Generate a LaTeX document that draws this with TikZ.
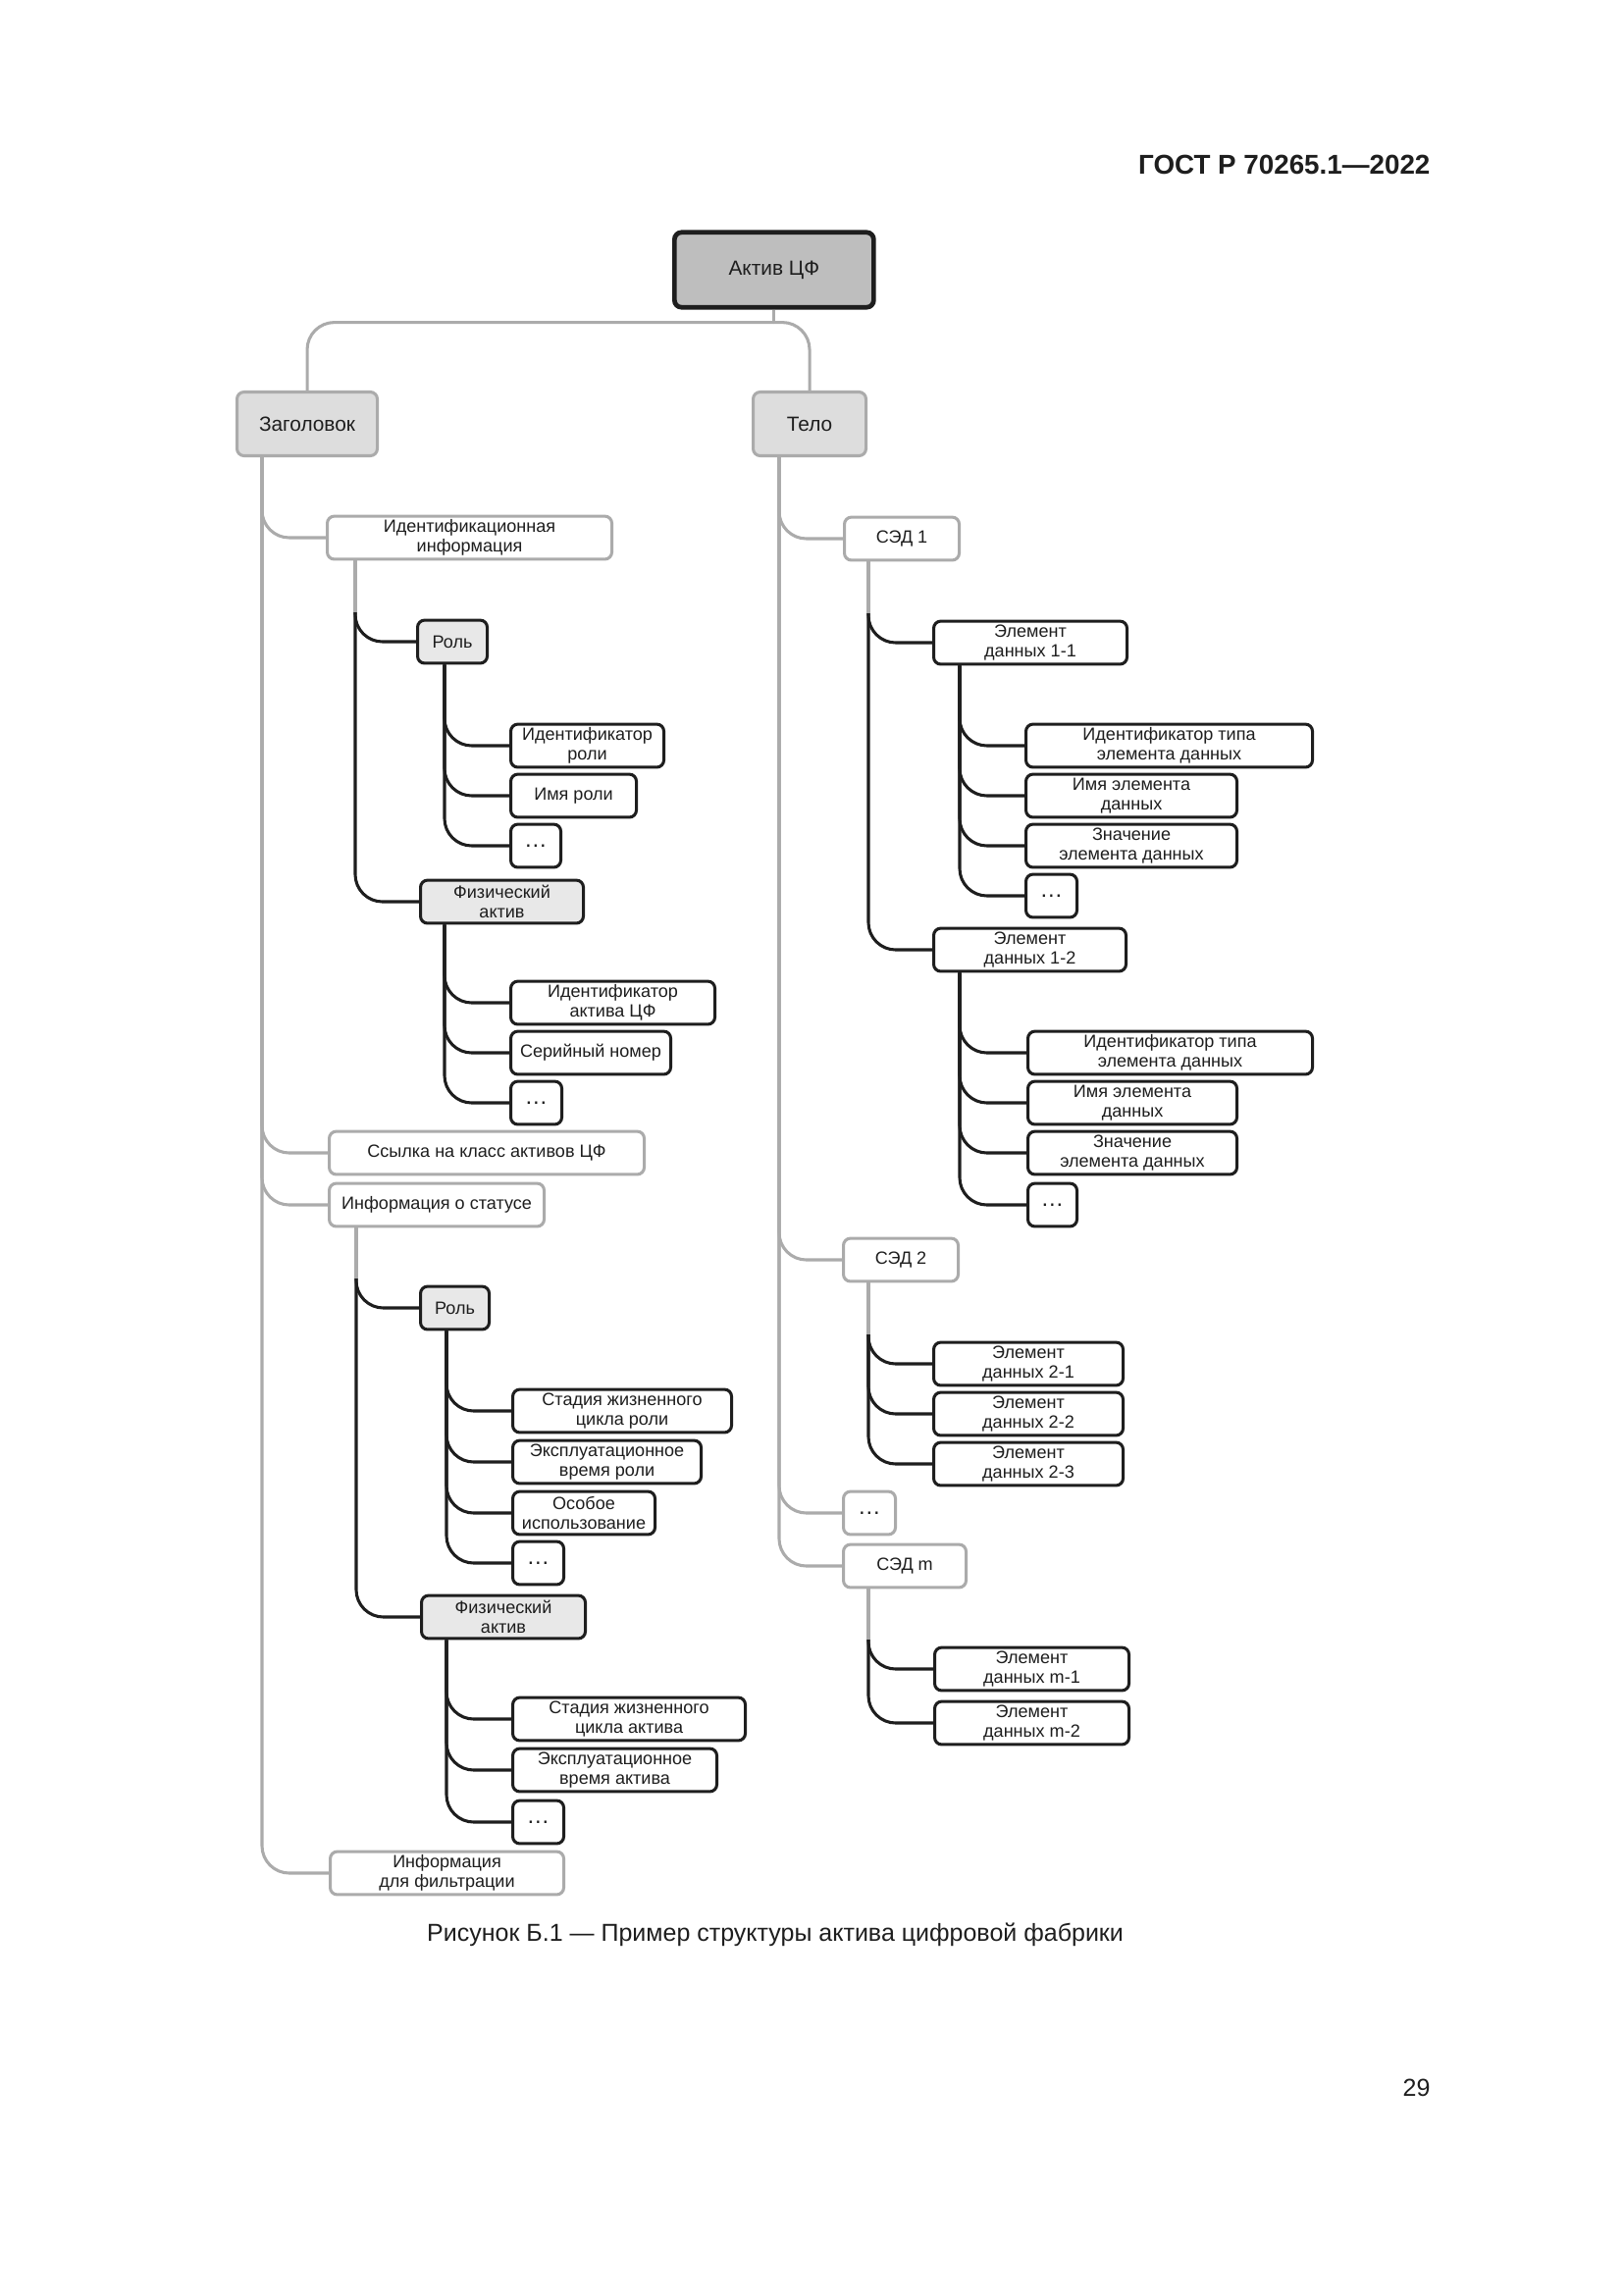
\documentclass[tikz,border=0pt]{standalone}
\usepackage{fontspec}
\setmainfont{Liberation Sans}
\usepackage{xcolor}
\usepackage{tikz}
\usetikzlibrary{calc}
\definecolor{ink}{HTML}{1E1E1E}
\definecolor{edge}{HTML}{ABABAB}
\definecolor{rootfill}{HTML}{BEBEBE}
\definecolor{headfill}{HTML}{DDDDDD}
\definecolor{kindfill}{HTML}{E8E8E8}
\tikzset{
  bw/.style={minimum width=(#1-3)*0.36pt},
  box/.style={anchor=west, rounded corners=2.6pt, minimum height=15.8pt, inner sep=1pt, align=center, text=ink, font=\fontsize{6.5}{7.1}\selectfont},
  rootbox/.style={box, draw=ink, fill=rootfill, line width=1.7pt, minimum height=27.5pt, font=\fontsize{7.5}{8.5}\selectfont},
  headbox/.style={box, draw=edge, fill=headfill, line width=1.1pt, minimum height=23.4pt, font=\fontsize{7.5}{8.5}\selectfont},
  grpbox/.style={box, draw=edge, fill=white, line width=1.1pt},
  kindbox/.style={box, draw=ink, fill=kindfill, line width=1.1pt},
  leafbox/.style={box, draw=ink, fill=white, line width=1.1pt},
  dotbox/.style={font=\fontsize{8.5}{9}\selectfont},
  gline/.style={draw=edge, line width=1.1pt, rounded corners=10pt},
  bline/.style={draw=ink, line width=1.1pt, rounded corners=10pt},
  lab/.style={text=ink, inner sep=0pt},
}
\begin{document}
\begin{tikzpicture}[x=0.36pt, y=-0.36pt]
\path[fill=white, use as bounding box] (0,0) rectangle (1654,2339);

% page text
\node[lab, anchor=base east, font=\fontsize{10}{12}\selectfont\bfseries] (gost) at (1458,177) {ГОСТ Р 70265.1—2022};
\node[lab, anchor=base, font=\fontsize{9}{11}\selectfont] (caption) at (790,1978) {Рисунок Б.1 — Пример структуры актива цифровой фабрики};
\node[lab, anchor=base east, font=\fontsize{9}{11}\selectfont] (pagenum) at (1458,2136) {29};

% top levels
\node[rootbox, bw=206] (aktiv) at (685,275) {Актив ЦФ};
\node[headbox, bw=146] (zag) at (240,432) {Заголовок};
\node[headbox, bw=118] (telo) at (766,432) {Тело};

% header branch
\node[grpbox, bw=293] (id) at (332,548) {Идентификационная\\информация};
\node[kindbox, bw=74] (role1) at (424,654) {Роль};
\node[leafbox, bw=159] (rid) at (519,760) {Идентификатор\\роли};
\node[leafbox, bw=131] (rname) at (519,811) {Имя роли};
\node[leafbox, dotbox, bw=54] (rdots1) at (519,862) {…};
\node[kindbox, bw=169] (phys1) at (427,919) {Физический\\актив};
\node[leafbox, bw=211] (pid) at (519,1022) {Идентификатор\\актива ЦФ};
\node[leafbox, bw=166] (pser) at (519,1073) {Серийный номер};
\node[leafbox, dotbox, bw=55] (pdots1) at (519,1124) {…};
\node[grpbox, bw=324] (link) at (334,1175) {Ссылка на класс активов ЦФ};
\node[grpbox, bw=222] (status) at (334,1228) {Информация о статусе};
\node[kindbox, bw=73] (role2) at (427,1333) {Роль};
\node[leafbox, bw=226] (rst) at (521,1438) {Стадия жизненного\\цикла роли};
\node[leafbox, bw=195] (rtime) at (521,1490) {Эксплуатационное\\время роли};
\node[leafbox, bw=148] (ruse) at (521,1542) {Особое\\использование};
\node[leafbox, dotbox, bw=55] (rdots2) at (521,1593) {…};
\node[kindbox, bw=170] (phys2) at (428,1648) {Физический\\актив};
\node[leafbox, bw=240] (pst) at (521,1752) {Стадия жизненного\\цикла актива};
\node[leafbox, bw=211] (ptime) at (521,1804) {Эксплуатационное\\время актива};
\node[leafbox, dotbox, bw=55] (pdots2) at (521,1857) {…};
\node[grpbox, bw=241] (filt) at (335,1909) {Информация\\для фильтрации};

% body branch
\node[grpbox, bw=120] (sed1) at (859,549) {СЭД 1};
\node[leafbox, bw=200] (el11) at (950,655) {Элемент\\данных 1-1};
\node[leafbox, bw=295] (e11id) at (1044,760) {Идентификатор типа\\элемента данных};
\node[leafbox, bw=218] (e11nm) at (1044,811) {Имя элемента\\данных};
\node[leafbox, bw=218] (e11vl) at (1044,862) {Значение\\элемента данных};
\node[leafbox, dotbox, bw=55] (e11dt) at (1044,913) {…};
\node[leafbox, bw=199] (el12) at (950,968) {Элемент\\данных 1-2};
\node[leafbox, bw=293] (e12id) at (1046,1073) {Идентификатор типа\\элемента данных};
\node[leafbox, bw=216] (e12nm) at (1046,1124) {Имя элемента\\данных};
\node[leafbox, bw=216] (e12vl) at (1046,1175) {Значение\\элемента данных};
\node[leafbox, dotbox, bw=53] (e12dt) at (1046,1228) {…};
\node[grpbox, bw=120] (sed2) at (858,1284) {СЭД 2};
\node[leafbox, bw=196] (el21) at (950,1390) {Элемент\\данных 2-1};
\node[leafbox, bw=196] (el22) at (950,1441) {Элемент\\данных 2-2};
\node[leafbox, bw=196] (el23) at (950,1492) {Элемент\\данных 2-3};
\node[grpbox, dotbox, bw=56] (sdots) at (858,1542) {…};
\node[grpbox, bw=128] (sedm) at (858,1596) {СЭД m};
\node[leafbox, bw=201] (elm1) at (951,1701) {Элемент\\данных m-1};
\node[leafbox, bw=201] (elm2) at (951,1756) {Элемент\\данных m-2};

% root split
\coordinate (split) at ($(aktiv.south)+(0,13)$);
\draw[gline] (aktiv.south) -- (split);
\draw[gline] (split) -| (zag.north);
\draw[gline] (split) -| (telo.north);

% header links
\coordinate (zb) at ($(zag.south west)+(27,0)$);
\draw[gline] (zb) |- (id.west);
\draw[gline] (zb) |- (link.west);
\draw[gline] (zb) |- (status.west);
\draw[gline] (zb) |- (filt.west);

\coordinate (idb) at ($(id.south west)+(30,0)$);
\coordinate (idk) at ($(idb |- role1.west)+(0,-30)$);
\draw[gline] (idb) -- (idk);
\draw[bline] (idk) |- (role1.west);
\draw[bline] (idk) |- (phys1.west);

\coordinate (r1b) at ($(role1.south west)+(29,0)$);
\draw[bline] (r1b) |- (rid.west);
\draw[bline] (r1b) |- (rname.west);
\draw[bline] (r1b) |- (rdots1.west);

\coordinate (p1b) at ($(phys1.south west)+(26,0)$);
\draw[bline] (p1b) |- (pid.west);
\draw[bline] (p1b) |- (pser.west);
\draw[bline] (p1b) |- (pdots1.west);

\coordinate (stb) at ($(status.south west)+(29,0)$);
\coordinate (stk) at ($(stb |- role2.west)+(0,-30)$);
\draw[gline] (stb) -- (stk);
\draw[bline] (stk) |- (role2.west);
\draw[bline] (stk) |- (phys2.west);

\coordinate (r2b) at ($(role2.south west)+(28,0)$);
\draw[bline] (r2b) |- (rst.west);
\draw[bline] (r2b) |- (rtime.west);
\draw[bline] (r2b) |- (ruse.west);
\draw[bline] (r2b) |- (rdots2.west);

\coordinate (p2b) at ($(phys2.south west)+(27,0)$);
\draw[bline] (p2b) |- (pst.west);
\draw[bline] (p2b) |- (ptime.west);
\draw[bline] (p2b) |- (pdots2.west);

% body links
\coordinate (tb) at ($(telo.south west)+(28,0)$);
\draw[gline] (tb) |- (sed1.west);
\draw[gline] (tb) |- (sed2.west);
\draw[gline] (tb) |- (sdots.west);
\draw[gline] (tb) |- (sedm.west);

\coordinate (s1b) at ($(sed1.south west)+(26,0)$);
\coordinate (s1k) at ($(s1b |- el11.west)+(0,-30)$);
\draw[gline] (s1b) -- (s1k);
\draw[bline] (s1k) |- (el11.west);
\draw[bline] (s1k) |- (el12.west);

\coordinate (e1b) at ($(el11.south west)+(28,0)$);
\draw[bline] (e1b) |- (e11id.west);
\draw[bline] (e1b) |- (e11nm.west);
\draw[bline] (e1b) |- (e11vl.west);
\draw[bline] (e1b) |- (e11dt.west);

\coordinate (e2b) at ($(el12.south west)+(28,0)$);
\draw[bline] (e2b) |- (e12id.west);
\draw[bline] (e2b) |- (e12nm.west);
\draw[bline] (e2b) |- (e12vl.west);
\draw[bline] (e2b) |- (e12dt.west);

\coordinate (s2b) at ($(sed2.south west)+(27,0)$);
\coordinate (s2k) at ($(s2b |- el21.west)+(0,-30)$);
\draw[gline] (s2b) -- (s2k);
\draw[bline] (s2k) |- (el21.west);
\draw[bline] (s2k) |- (el22.west);
\draw[bline] (s2k) |- (el23.west);

\coordinate (smb) at ($(sedm.south west)+(27,0)$);
\coordinate (smk) at ($(smb |- elm1.west)+(0,-30)$);
\draw[gline] (smb) -- (smk);
\draw[bline] (smk) |- (elm1.west);
\draw[bline] (smk) |- (elm2.west);
\end{tikzpicture}
\end{document}
